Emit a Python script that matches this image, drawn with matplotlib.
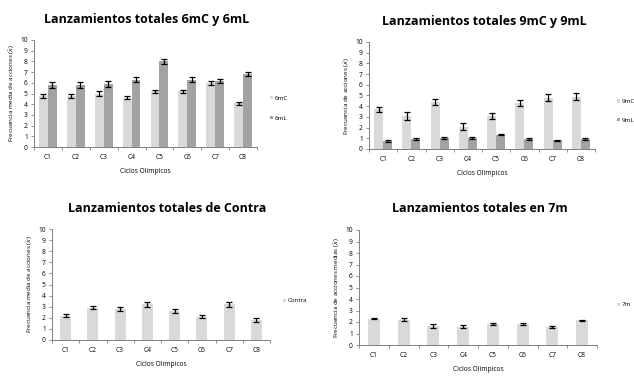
import matplotlib
matplotlib.use("Agg")
import matplotlib.pyplot as plt
import numpy as np

plt.rcParams['font.family'] = ['Open Sans', 'DejaVu Sans']

cycles = ["C1", "C2", "C3", "C4", "C5", "C6", "C7", "C8"]
yticks = list(range(0, 11))

m6C = [4.8, 4.8, 5.0, 4.6, 5.2, 5.2, 6.0, 4.1]
m6C_err = [0.2, 0.2, 0.2, 0.15, 0.15, 0.15, 0.2, 0.15]
m6L = [5.8, 5.8, 5.9, 6.3, 8.0, 6.3, 6.2, 6.8]
m6L_err = [0.25, 0.25, 0.3, 0.2, 0.2, 0.25, 0.2, 0.2]

m9C = [3.7, 3.1, 4.4, 2.1, 3.1, 4.3, 4.8, 4.9]
m9C_err = [0.25, 0.35, 0.3, 0.35, 0.3, 0.3, 0.3, 0.3]
m9L = [0.75, 0.95, 1.05, 1.05, 1.35, 0.95, 0.8, 0.95]
m9L_err = [0.07, 0.07, 0.07, 0.07, 0.07, 0.07, 0.07, 0.07]

contra = [2.2, 2.9, 2.8, 3.2, 2.6, 2.1, 3.2, 1.8]
contra_err = [0.15, 0.15, 0.15, 0.2, 0.2, 0.15, 0.2, 0.15]

m7 = [2.3, 2.2, 1.65, 1.6, 1.85, 1.85, 1.6, 2.15]
m7_err = [0.08, 0.15, 0.15, 0.1, 0.08, 0.08, 0.08, 0.04]

LIGHT = "#d9d9d9"
DARK = "#a3a3a3"

W, H = 634, 376
fig = plt.figure(figsize=(W / 100, H / 100), dpi=100)


def px_axes(l, t, r, b):
    return fig.add_axes([l / W, 1 - b / H, (r - l) / W, (b - t) / H])


def style(ax, ylabel):
    x = np.arange(len(cycles))
    ax.set_xlim(-0.5, len(cycles) - 0.5)
    ax.set_ylim(0, 10)
    ax.set_yticks(yticks)
    ax.set_xticks(x)
    ax.set_xticklabels(cycles, fontsize=4.8)
    ax.set_xticks(np.arange(len(cycles) + 1) - 0.5, minor=True)
    ax.tick_params(axis='x', which='major', length=0, pad=5)
    ax.tick_params(axis='x', which='minor', length=2.5, color='#808080', width=0.6)
    ax.tick_params(axis='y', labelsize=4.8, length=2.5, color='#808080', width=0.6, pad=2)
    for s in ['top', 'right']:
        ax.spines[s].set_visible(False)
    for s in ['left', 'bottom']:
        ax.spines[s].set_color('#808080')
        ax.spines[s].set_linewidth(0.7)
    ax.set_ylabel(ylabel, fontsize=4.5, labelpad=2)
    ax.set_xlabel("Ciclos Olímpicos", fontsize=4.8, labelpad=5)


def legend(ax, xpx, ypx, spacing=2.0):
    ax.legend(loc='center left', bbox_to_anchor=(xpx / W, 1 - ypx / H), bbox_transform=fig.transFigure,
              frameon=False, fontsize=4.5, handlelength=0.5, handleheight=0.5, handletextpad=0.3,
              labelspacing=spacing, borderpad=0, borderaxespad=0)


ekw = dict(ecolor='black', capsize=2.0, error_kw=dict(elinewidth=0.9, capthick=0.9))

x = np.arange(len(cycles))
bw = 0.32

# Panel 1
ax1 = px_axes(34, 40, 257, 147)
ax1.bar(x - bw / 2, m6C, bw, yerr=m6C_err, color=LIGHT, label="6mC", **ekw)
ax1.bar(x + bw / 2, m6L, bw, yerr=m6L_err, color=DARK, label="6mL", **ekw)
style(ax1, "Frecuencia media de acciones ($\\bar{x}$)")
legend(ax1, 270, 108, 2.4)
fig.text(147 / W, 1 - 20 / H, "Lanzamientos totales 6mC y 6mL", ha='center', va='center', fontsize=9, fontweight='bold')

# Panel 2
ax2 = px_axes(369, 42, 595, 149)
ax2.bar(x - bw / 2, m9C, bw, yerr=m9C_err, color=LIGHT, label="9mC", **ekw)
ax2.bar(x + bw / 2, m9L, bw, yerr=m9L_err, color=DARK, label="9mL", **ekw)
style(ax2, "Frecuencia de acciones ($\\bar{x}$)")
legend(ax2, 617, 111, 2.2)
fig.text(484 / W, 1 - 21 / H, "Lanzamientos totales 9mC y 9mL", ha='center', va='center', fontsize=9, fontweight='bold')

# Panel 3
bw1 = 0.4
ax3 = px_axes(52, 229, 270, 340)
ax3.bar(x, contra, bw1, yerr=contra_err, color=LIGHT, label="Contra", **ekw)
style(ax3, "Frecuencia media de acciones ($\\bar{x}$)")
legend(ax3, 283, 301)
fig.text(167 / W, 1 - 209 / H, "Lanzamientos totales de Contra", ha='center', va='center', fontsize=9, fontweight='bold')

# Panel 4
ax4 = px_axes(359, 230, 597, 345)
ax4.bar(x, m7, bw1, yerr=m7_err, color=LIGHT, label="7m", **ekw)
style(ax4, "Frecuencia de acciones medias ($\\bar{x}$)")
legend(ax4, 617, 305)
fig.text(480 / W, 1 - 209 / H, "Lanzamientos totales en 7m", ha='center', va='center', fontsize=9, fontweight='bold')

fig.savefig("out.png", dpi=100, facecolor='white')
